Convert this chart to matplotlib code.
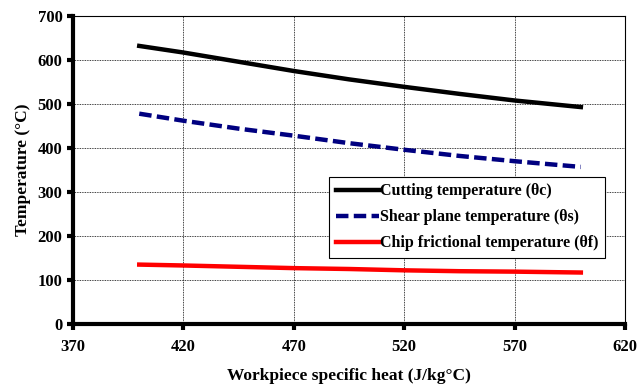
import matplotlib
matplotlib.use('Agg')
import matplotlib.pyplot as plt

# specific heat (J/kg°C) and predicted temperatures (°C)
specific_heat = [400, 420, 445, 470, 495, 520, 545, 570, 600]
theta_c = [632, 617, 596, 575, 556, 539, 523, 508, 493]
theta_s = [478, 462, 444, 428, 411, 396, 382, 370, 357]
theta_f = [135, 133, 130, 127, 125, 122, 120, 119, 117]

plt.rcParams['font.family'] = ['Liberation Serif', 'DejaVu Serif']
plt.rcParams['font.weight'] = 'bold'

fig = plt.figure(figsize=(6.38, 3.87), dpi=100)
ax = fig.add_axes([73/638, 1-324/387, 552/638, 308/387])

ax.plot(specific_heat, theta_c, color='black', lw=3.2, label='Cutting temperature (θc)')
ax.plot(specific_heat, theta_s, color='#000080', lw=3.2, ls=(0, (2.8, 1.2)),
        label='Shear plane temperature (θs)')
ax.plot(specific_heat, theta_f, color='#ff0000', lw=3.2, label='Chip frictional temperature (θf)')

ax.set_xlim(370, 620)
ax.set_ylim(0, 700)
ax.set_xticks(range(370, 621, 50))
ax.set_yticks(range(0, 701, 100))
ax.grid(True, color='black', ls=(0, (1, 1)), lw=0.6)

for side in ['left', 'bottom']:
    ax.spines[side].set_linewidth(3)
for side in ['top', 'right']:
    ax.spines[side].set_linewidth(0.8)
ax.tick_params(direction='out', length=4, width=3, labelsize=12)
ax.tick_params(axis='x', pad=7)
for lab in ax.get_xticklabels() + ax.get_yticklabels():
    lab.set_fontweight('bold')

ax.set_xlabel('Workpiece specific heat (J/kg°C)', fontsize=12.5, fontweight='bold', labelpad=9)
ax.set_ylabel('Temperature (°C)', fontsize=12.5, fontweight='bold', labelpad=5)

leg = ax.legend(loc='upper left', bbox_to_anchor=(0.464, 0.477), fancybox=False,
                framealpha=1, edgecolor='black', handlelength=2.7, handletextpad=0.1,
                borderpad=0.4, labelspacing=0.62, borderaxespad=0,
                prop={'size': 11.5, 'weight': 'bold'})
leg.get_frame().set_linewidth(0.8)

fig.savefig('out.png', dpi=100)
